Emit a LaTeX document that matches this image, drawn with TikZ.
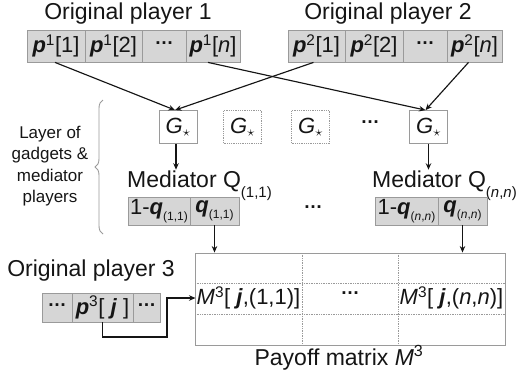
\documentclass[tikz,border=0pt]{standalone}
\usepackage{fontspec}
\setmainfont{Liberation Sans}
\usetikzlibrary{arrows.meta,decorations.pathreplacing}

\definecolor{cellfill}{HTML}{D6D6D6}
\definecolor{cellline}{HTML}{9A9A9A}
\definecolor{ink}{HTML}{151515}

% bold italic symbol, superscript, lowered small subscript, centred dots
\newcommand\bivar[1]{\textbf{\textit{#1}}}
\newcommand\upidx[1]{\textsuperscript{#1}}
\newcommand\lowidx[2]{\raisebox{-#1}{\fontsize{12}{12}\selectfont #2}}
\newcommand\medidx[1]{\raisebox{-0.45em}{\fontsize{15}{15}\selectfont #1}}
\newcommand\midots{\raisebox{0.25em}{\textbf{\fontsize{19}{19}\selectfont …}}}
\newcommand\gstar{\textit{G}$_{\star}$}

\tikzset{
  title/.style={font=\fontsize{23}{26}\selectfont, text=ink, inner sep=1},
  cell/.style={draw=cellline, fill=cellfill, line width=0.8pt, minimum height=32, inner sep=0,
               font=\fontsize{22}{24}\selectfont, text=ink},
  gbox/.style={draw=cellline, line width=0.8pt, minimum width=38, minimum height=33, inner sep=0,
               font=\fontsize{22}{24}\selectfont, text=ink},
  gghost/.style={gbox, densely dotted},
  plain/.style={font=\fontsize{22}{24}\selectfont, text=ink, inner sep=1},
  arr/.style={draw=ink, line width=1.15pt, -{Stealth[length=6.5pt,width=5.5pt]}},
  grid/.style={draw=cellline, densely dotted, line width=0.7pt},
}

\begin{document}
\begin{tikzpicture}[x=1pt, y=-1pt]
\useasboundingbox (0,0) rectangle (520,376);

% ---- original player 1 ----
\node[title] (t1) at (128,14) {Original player 1};
\node[cell, minimum width=58] (a1) at (56,46)    {\bivar{p}\upidx{1}[1]};
\node[cell, minimum width=57] (a2) at (113.5,46) {\bivar{p}\upidx{1}[2]};
\node[cell, minimum width=44] (a3) at (164,46)   {\midots};
\node[cell, minimum width=54] (a4) at (213,46)   {\bivar{p}\upidx{1}[\textit{n}]};

% ---- original player 2 ----
\node[title] (t2) at (388,14) {Original player 2};
\node[cell, minimum width=57] (b1) at (316.5,46) {\bivar{p}\upidx{2}[1]};
\node[cell, minimum width=58] (b2) at (374,46)   {\bivar{p}\upidx{2}[2]};
\node[cell, minimum width=44] (b3) at (425,46)   {\midots};
\node[cell, minimum width=55] (b4) at (474.5,46) {\bivar{p}\upidx{2}[\textit{n}]};

% ---- gadget layer ----
\node[gbox]   (g1) at (178,127)   {\gstar};
\node[gghost] (g2) at (242.5,127) {\gstar};
\node[gghost] (g3) at (310.5,127) {\gstar};
\node[plain]  (gd) at (370,125)   {\midots};
\node[gbox]   (gn) at (428.5,127) {\gstar};

\draw[arr] ([xshift=-1pt]a1.south) -- ([xshift=-3pt]g1.north);
\draw[arr] ([xshift=-3pt]b1.south) -- ([xshift=-3pt]g1.north);
\draw[arr] ([xshift=-5pt]a4.south) -- ([xshift=-3pt]gn.north);
\draw[arr] ([xshift=-6pt]b4.south) -- ([xshift=-3pt]gn.north);

% ---- mediators ----
\node[title, anchor=west] (m1t) at (126,186) {Mediator Q\medidx{(1,1)}};
\node[title, anchor=west] (mnt) at (371,186) {Mediator Q\medidx{(\textit{n},\textit{n})}};

\draw[arr] ([xshift=-2pt]g1.south) -- ([xshift=-2pt]g1.south |- m1t.north);
\draw[arr] (gn.south) -- (gn.south |- mnt.north);

\node[cell, minimum width=62, minimum height=28] (q1a) at (159,211)   {1-\bivar{q}\lowidx{0.3em}{(1,1)}};
\node[cell, minimum width=49, minimum height=28] (q1b) at (214.5,211) {\bivar{q}\lowidx{0.3em}{(1,1)}};
\node[plain] (qd) at (313,210) {\midots};
\node[cell, minimum width=63, minimum height=28] (qna) at (406.5,211) {1-\bivar{q}\lowidx{0.3em}{(\textit{n},\textit{n})}};
\node[cell, minimum width=49, minimum height=28] (qnb) at (462.5,211) {\bivar{q}\lowidx{0.3em}{(\textit{n},\textit{n})}};

% ---- brace and its label ----
\draw[draw=cellline, line width=0.9pt, decorate,
      decoration={brace, amplitude=8pt}] (103,234) -- (103,100);
\node[font=\fontsize{17}{21.5}\selectfont, text=ink, align=center] (lay) at (50,166)
  {Layer of\\gadgets \&\\mediator\\players};

% ---- payoff matrix ----
\node[draw=cellline, line width=0.9pt, minimum width=310, minimum height=92, inner sep=0] (mat) at (350,299) {};
\draw[grid] (302,253) -- (302,345);
\draw[grid] (398,253) -- (398,345);
\draw[grid] (195,283) -- (505,283);
\draw[grid] (195,314) -- (505,314);
\node[plain] (m11) at (248.5,298) {\textit{M}\upidx{3}[ \bivar{j},(1,1)]};
\node[plain] (mdd) at (350,296)   {\midots};
\node[plain] (mnn) at (451.5,298) {\textit{M}\upidx{3}[ \bivar{j},(\textit{n},\textit{n})]};
\node[title] (pt) at (339,358) {Payoff matrix \textit{M}\upidx{3}};

\draw[arr] (q1b.south) -- (q1b.south |- mat.north);
\draw[arr] (qnb.south) -- (qnb.south |- mat.north);

% ---- original player 3 ----
\node[title] (t3) at (91,271) {Original player 3};
\node[cell, minimum width=30, minimum height=29] (c1) at (57,307.5)    {\midots};
\node[cell, minimum width=61, minimum height=29] (c2) at (102.5,307.5) {\bivar{p}\upidx{3}[ \bivar{j} ]};
\node[cell, minimum width=27, minimum height=29] (c3) at (146.5,307.5) {\midots};

\coordinate (bend) at (167,337);
\draw[arr] (c2.south) |- (bend) |- (m11.west);
\end{tikzpicture}
\end{document}
